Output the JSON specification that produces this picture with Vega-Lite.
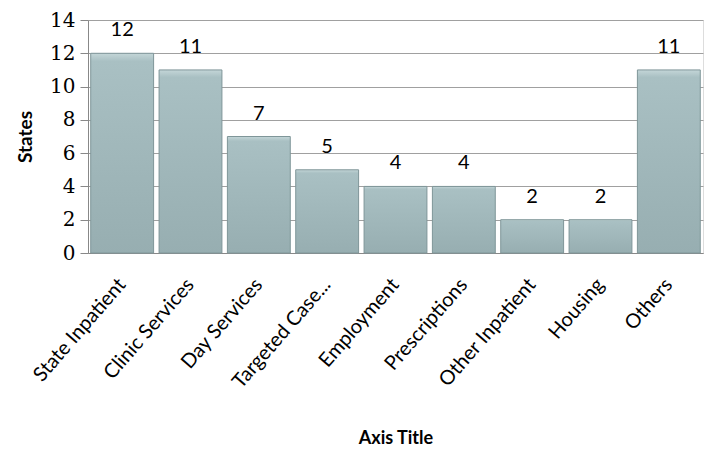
{
  "$schema": "https://vega.github.io/schema/vega-lite/v6.json",
  "width": 615,
  "height": 233,
  "autosize": {"type": "none"},
  "padding": {"left": 88, "top": 20, "right": 5, "bottom": 202},
  "background": "white",
  "data": {"values": [
    {"category": "State Inpatient", "states": 12},
    {"category": "Clinic Services", "states": 11},
    {"category": "Day Services", "states": 7},
    {"category": "Targeted Case...", "states": 5},
    {"category": "Employment", "states": 4},
    {"category": "Prescriptions", "states": 4},
    {"category": "Other Inpatient", "states": 2},
    {"category": "Housing", "states": 2},
    {"category": "Others", "states": 11}
  ]},
  "encoding": {
    "x": {
      "field": "category", "type": "nominal", "sort": null,
      "scale": {"paddingInner": 0.08, "paddingOuter": 0.04},
      "axis": {
        "title": "Axis Title", "labelAngle": -49, "labelAlign": "right", "labelBaseline": "middle",
        "labelFont": "Lato", "labelFontSize": 20, "labelColor": "#000", "labelPadding": 28,
        "ticks": false, "domainColor": "#888", "labelLimit": 300,
        "titleFont": "Lato", "titleFontSize": 18, "titleFontWeight": "bold", "titleColor": "#000",
        "titleY": 176
      }
    },
    "y": {
      "field": "states", "type": "quantitative",
      "scale": {"domain": [0, 14]},
      "axis": {
        "title": "States", "values": [0, 2, 4, 6, 8, 10, 12, 14],
        "labelFont": "DejaVu Serif", "labelFontSize": 20, "labelColor": "#000", "labelPadding": 5,
        "tickSize": 8, "tickColor": "#888", "domainColor": "#888", "gridColor": "#a0a0a0",
        "titleFont": "Lato", "titleFontSize": 19, "titleFontWeight": "bold", "titleColor": "#000",
        "titlePadding": 14
      }
    }
  },
  "layer": [
    {
      "mark": {
        "type": "bar",
        "stroke": "#7f9699", "strokeWidth": 1,
        "color": {
          "gradient": "linear", "x1": 0, "y1": 0, "x2": 0, "y2": 1,
          "stops": [
            {"offset": 0, "color": "#c4d6d8"},
            {"offset": 0.04, "color": "#a9c0c3"},
            {"offset": 1, "color": "#97aeb1"}
          ]
        }
      }
    },
    {
      "mark": {"type": "text", "baseline": "bottom", "dy": -13, "font": "Lato", "fontSize": 20, "color": "#000"},
      "encoding": {"text": {"field": "states", "type": "quantitative"}}
    }
  ]
}
